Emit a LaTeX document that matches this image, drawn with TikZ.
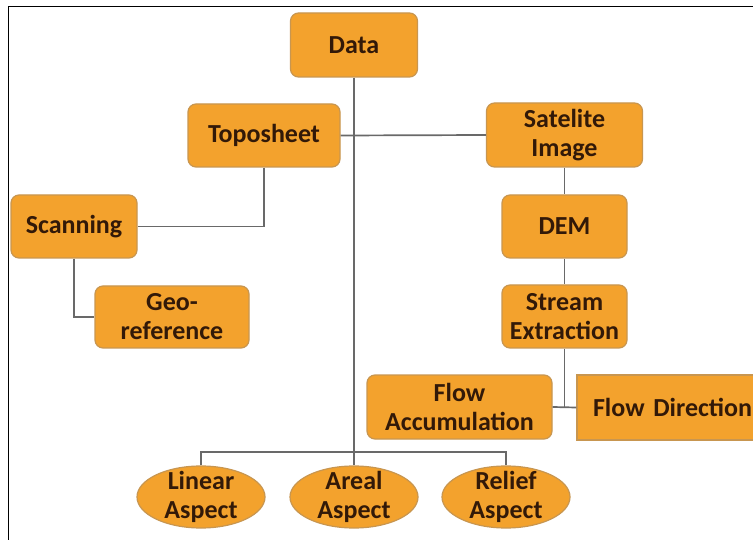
\documentclass[tikz,border=0pt]{standalone}
\usepackage{fontspec}
\setmainfont{Carlito}
\usetikzlibrary{shapes.geometric}
\definecolor{boxfill}{RGB}{243,162,45}
\definecolor{boxedge}{RGB}{200,150,80}
\definecolor{txt}{RGB}{50,25,8}
\definecolor{conn}{RGB}{105,105,105}
\begin{document}
\begin{tikzpicture}[x=1pt,y=-1pt,
  lbl/.style={font=\bfseries\fontsize{26}{29}\selectfont, text=txt, align=center, inner sep=1pt},
  box/.style={lbl, draw=boxedge, line width=1.2pt, fill=boxfill, rounded corners=8pt},
  oval/.style={ellipse, draw=boxedge, line width=1.2pt, fill=boxfill, minimum width=128pt, minimum height=62pt, inner sep=0pt},
  conn/.style={draw=conn, line width=1.7pt}]
\clip (0,0) rectangle (753,540);
\fill[white] (0,0) rectangle (753,540);
\draw[black, line width=1pt] (8,545) -- (8,7) -- (760,7);
% nodes
\node[box, minimum width=127pt, minimum height=64pt] (data) at (354,45) {Data};
\node[box, minimum width=152pt, minimum height=63pt] (topo) at (264,135.5) {Toposheet};
\node[box, minimum width=156pt, minimum height=64pt] (sat) at (564.5,135) {Satelite\\Image};
\node[box, minimum width=126pt, minimum height=63pt] (scan) at (74,226.5) {Scanning};
\node[box, minimum width=154pt, minimum height=62pt] (geo) at (172,317) {Geo-\\reference};
\node[box, minimum width=125pt, minimum height=63pt] (dem) at (564.5,226.5) {DEM};
\node[box, minimum width=125pt, minimum height=63pt] (stream) at (564.5,316.5) {Stream\\Extraction};
\node[box, minimum width=185pt, minimum height=64pt] (flowacc) at (459.5,407) {Flow\\Accumulation};
\node[box, sharp corners, align=left, text width=168pt, inner xsep=16pt, minimum width=200pt, minimum height=65pt] (flowdir) at (677,407.5) {Flow Direction};
\node[oval] (linear) at (201,497) {};
\node[oval] (areal) at (354,497) {};
\node[oval] (relief) at (506,497) {};
\node[lbl] (linearT) at (linear.center) {Linear\\Aspect};
\node[lbl] (arealT) at (areal.center) {Areal\\Aspect};
\node[lbl] (reliefT) at (relief.center) {Relief\\Aspect};
% connectors
\coordinate (bus) at (354,452);
\coordinate (fj) at (564.5,407);
\draw[conn] (data.south) -- (areal.north);
\draw[conn] (topo.east) -- (sat.west);
\draw[conn] (topo.south) |- (scan.east);
\draw[conn] (scan.south) |- (geo.west);
\draw[conn] (sat.south) -- (dem.north);
\draw[conn] (dem.south) -- (stream.north);
\draw[conn] (stream.south) -- (fj);
\draw[conn] (flowacc.east) -- (flowdir.west);
\draw[conn] (linear.north) |- (bus) -| (relief.north);
\end{tikzpicture}
\end{document}
